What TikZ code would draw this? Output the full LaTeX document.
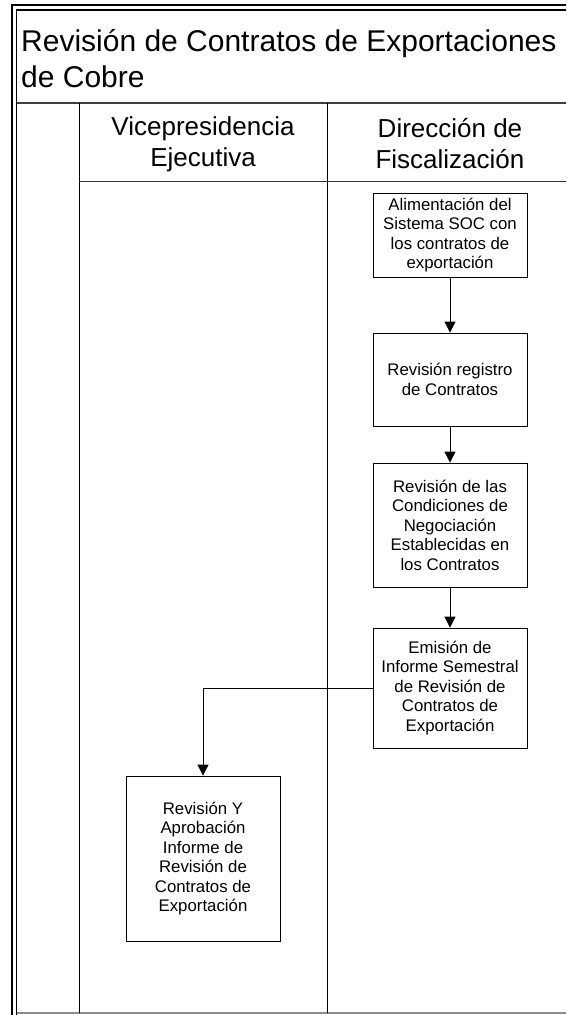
\documentclass[tikz,border=0pt]{standalone}
\usepackage{fontspec}
\setmainfont{Liberation Sans}
\usetikzlibrary{arrows.meta}
\tikzset{
  actbox/.style={draw,line width=0.8pt,minimum width=154pt,inner sep=0pt,align=center,
    font=\fontsize{16.8}{19.5}\selectfont},
  flow/.style={-{Triangle[length=11pt,width=11pt]},line width=0.8pt},
  lane/.style={line width=1pt},
  frame/.style={line width=1.2pt},
  every node/.style={font=\fontsize{16}{19}\selectfont}
}
\begin{document}
\begin{tikzpicture}[x=1pt,y=-1pt]
\useasboundingbox (0,0) rectangle (566,1015);
\clip (0,0) rectangle (566,1015);
% pool frame
\draw[frame] (12,1030) -- (12,5) -- (600,5);
\draw[frame] (16.5,1030) -- (16.5,10) -- (600,10);
\draw[line width=1.6pt,black!75] (16.5,103) -- (600,103);
\draw[line width=1.2pt,black!45] (16.5,1013) -- (600,1013);
% lanes
\draw[lane] (79,103) -- (79,1013);
\draw[lane] (327,103) -- (327,1013);
\draw[lane,black!80] (79,181) -- (600,181);
% titles
\node[anchor=north west,align=left,inner sep=0pt,font=\fontsize{30}{36}\selectfont]
  (title) at (21,29) {Revisión de Contratos de Exportaciones\\de Cobre};
\node[align=center,font=\fontsize{26}{31}\selectfont] (vpe) at (203,144)
  {Vicepresidencia\\Ejecutiva};
\node[align=center,font=\fontsize{26}{31}\selectfont] (dfi) at (450,144)
  {Dirección de\\Fiscalización};
% activities
\node[actbox,minimum height=84pt] (alim) at (450,235)
  {Alimentación del\\Sistema SOC con\\los contratos de\\exportación};
\node[actbox,minimum height=93pt] (regi) at (450,379.5)
  {Revisión registro\\de Contratos};
\node[actbox,minimum height=124pt] (cond) at (450,525)
  {Revisión de las\\Condiciones de\\Negociación\\Establecidas en\\los Contratos};
\node[actbox,minimum height=120pt] (emis) at (450,688)
  {Emisión de\\Informe Semestral\\de Revisión de\\Contratos de\\Exportación};
\node[actbox,minimum height=165pt] (apro) at (203,858.5)
  {Revisión Y\\Aprobación\\Informe de\\Revisión de\\Contratos de\\Exportación};
% flows
\draw[flow] (alim) -- (regi);
\draw[flow] (regi) -- (cond);
\draw[flow] (cond) -- (emis);
\draw[flow] (emis.west) -| (apro.north);
\end{tikzpicture}
\end{document}
